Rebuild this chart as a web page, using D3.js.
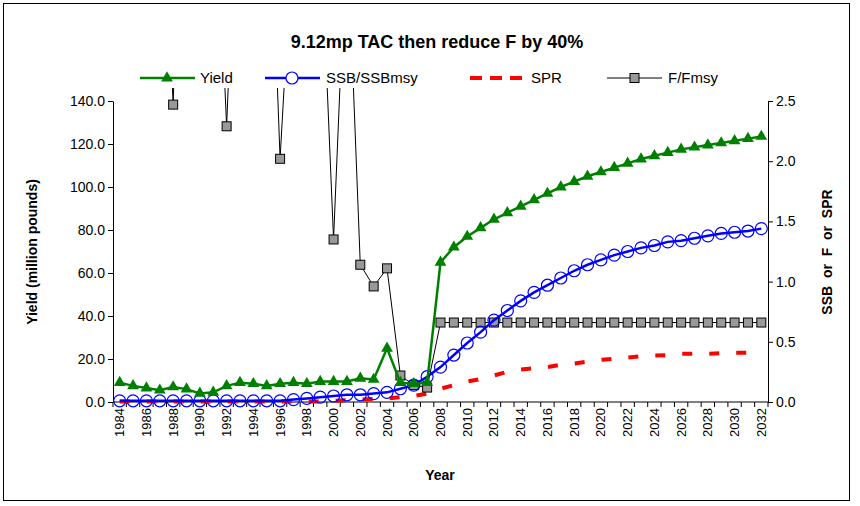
<!DOCTYPE html><html><head><script src="https://d3js.org/d3.v7.min.js"></script>
<style>body{margin:0;background:#fff;font-family:"Liberation Sans",Arial,sans-serif}</style></head><body>
<svg id="c" width="860" height="506"></svg>
<script>
const years=d3.range(1984,2033);
const yieldV=[9,7.5,6.5,5.5,7,6,4,4.5,7.5,9,8.5,7.5,8.5,9,8.5,9.5,9.5,9.5,11,10.5,25,9,8.5,9,65,72,77,81,85,88,91,94,97,100,102.5,105,107,109,111,113,114.5,116,117.5,118.5,119.5,120.5,121.5,122.5,123.5];
const ssbV=[0.01,0.01,0.01,0.01,0.01,0.01,0.01,0.01,0.01,0.01,0.01,0.01,0.01,0.02,0.03,0.04,0.05,0.06,0.06,0.07,0.08,0.11,0.14,0.21,0.29,0.39,0.49,0.58,0.68,0.76,0.84,0.91,0.97,1.03,1.09,1.14,1.18,1.22,1.25,1.28,1.30,1.33,1.34,1.36,1.38,1.40,1.41,1.42,1.44];
const sprV=[0.005,0.005,0.005,0.005,0.005,0.005,0.005,0.005,0.005,0.005,0.005,0.005,0.005,0.005,0.005,0.005,0.01,0.015,0.02,0.025,0.03,0.04,0.05,0.07,0.11,0.14,0.17,0.19,0.22,0.25,0.27,0.28,0.29,0.31,0.32,0.335,0.35,0.36,0.37,0.38,0.385,0.39,0.40,0.40,0.40,0.405,0.41,0.41];
const fV=[4,4.5,4.2,5,2.47,6,5.5,4.8,2.29,5,4.5,5,2.02,4,4.5,4,1.35,4,1.14,0.96,1.11,0.22,0.14,0.12,0.66,0.66,0.66,0.66,0.66,0.66,0.66,0.66,0.66,0.66,0.66,0.66,0.66,0.66,0.66,0.66,0.66,0.66,0.66,0.66,0.66,0.66,0.66,0.66,0.66];
const leftTicks=[0,20,40,60,80,100,120,140];
const rightTicks=[0,0.5,1,1.5,2,2.5];
const svg=d3.select("#c");
svg.append("rect").attr("x",3.5).attr("y",3.5).attr("width",846).attr("height",497).attr("fill","none").attr("stroke","#000");
const L=113,R=768,T=101,B=402;
const x=d3.scaleBand().domain(years).range([L,R]);
const cx=d=>x(d)+x.bandwidth()/2;
const yl=d3.scaleLinear().domain([0,140]).range([B,T]);
const yr=d3.scaleLinear().domain([0,2.5]).range([B,T]);
svg.append("text").attr("x",437).attr("y",48).attr("text-anchor","middle").attr("font-weight","bold").attr("font-size",18).text("9.12mp TAC then reduce F by 40%");
const ga=svg.append("g").attr("transform",`translate(${L},0)`).call(d3.axisLeft(yl).tickValues(leftTicks).tickFormat(d3.format(".1f")).tickSize(5).tickSizeOuter(0));
const gr=svg.append("g").attr("transform",`translate(${R},0)`).call(d3.axisRight(yr).tickValues(rightTicks).tickFormat(d3.format(".1f")).tickSize(5).tickSizeOuter(0));
[ga,gr].forEach(g=>{g.selectAll("text").attr("font-size",14).attr("font-family","Liberation Sans,Arial")});
ga.selectAll(".tick text").attr("x",-8);gr.selectAll(".tick text").attr("x",8);
const gx=svg.append("g").attr("transform",`translate(0,${B})`);
gx.append("line").attr("x1",L).attr("x2",R).attr("stroke","#000");
years.forEach((yv,i)=>{gx.append("line").attr("x1",x(yv)).attr("x2",x(yv)).attr("y1",0).attr("y2",5).attr("stroke","#000");
 if(i%2==0) gx.append("text").attr("transform",`translate(${cx(yv)+4.5},6) rotate(-90)`).attr("text-anchor","end").attr("font-size",13).text(yv);});
gx.append("line").attr("x1",R).attr("x2",R).attr("y1",0).attr("y2",5).attr("stroke","#000");
svg.append("text").attr("x",440).attr("y",480).attr("text-anchor","middle").attr("font-weight","bold").attr("font-size",14).text("Year");
svg.append("text").attr("transform","translate(37,252) rotate(-90)").attr("text-anchor","middle").attr("font-weight","bold").attr("font-size",14).text("Yield (million pounds)");
svg.append("text").attr("transform","translate(832,252) rotate(-90)").attr("text-anchor","middle").attr("font-weight","bold").attr("font-size",14).style("white-space","pre").text("SSB  or  F  or  SPR");
svg.append("defs").append("clipPath").attr("id","cp2").append("rect").attr("x",L).attr("y",88).attr("width",R-L).attr("height",B-88+10);
const p=svg.append("g").attr("clip-path","url(#cp2)");
const tri=d3.symbol().type(d3.symbolTriangle).size(60);
p.append("path").datum(sprV).attr("fill","none").attr("stroke","#ff0000").attr("stroke-width",4).attr("stroke-dasharray","10,17")
 .attr("d",d3.line().x((d,i)=>cx(years[i])).y(d=>yr(d)));
p.append("path").datum(fV).attr("fill","none").attr("stroke","#000").attr("stroke-width",1)
 .attr("d",d3.line().x((d,i)=>cx(years[i])).y(d=>yr(d)));
p.selectAll(".f").data(fV).join("rect").attr("x",(d,i)=>cx(years[i])-4.5).attr("y",d=>yr(d)-4.5).attr("width",9).attr("height",9).attr("fill","#999").attr("stroke","#000").attr("stroke-width",1);
p.append("path").datum(ssbV).attr("fill","none").attr("stroke","#0000ff").attr("stroke-width",2.5)
 .attr("d",d3.line().x((d,i)=>cx(years[i])).y(d=>yr(d)));
p.selectAll(".s").data(ssbV).join("circle").attr("cx",(d,i)=>cx(years[i])).attr("cy",d=>yr(d)).attr("r",6).attr("fill","none").attr("stroke","#0000ff").attr("stroke-width",1.2);
p.append("path").datum(yieldV).attr("fill","none").attr("stroke","#008000").attr("stroke-width",2.5)
 .attr("d",d3.line().x((d,i)=>cx(years[i])).y(d=>yl(d)));
p.selectAll(".y").data(yieldV).join("path").attr("d",tri).attr("transform",(d,i)=>`translate(${cx(years[i])},${yl(d)})`).attr("fill","#008000");
const lg=svg.append("g").attr("font-size",15);
const ly=78;
lg.append("line").attr("x1",140).attr("x2",195).attr("y1",ly).attr("y2",ly).attr("stroke","#008000").attr("stroke-width",2.5);
lg.append("path").attr("d",tri).attr("transform",`translate(167,${ly})`).attr("fill","#008000");
lg.append("text").attr("x",200).attr("y",ly+5).text("Yield");
lg.append("line").attr("x1",265).attr("x2",320).attr("y1",ly).attr("y2",ly).attr("stroke","#0000ff").attr("stroke-width",2.5);
lg.append("circle").attr("cx",292).attr("cy",ly).attr("r",6).attr("fill","#fff").attr("stroke","#0000ff").attr("stroke-width",1.2);
lg.append("text").attr("x",326).attr("y",ly+5).text("SSB/SSBmsy");
lg.append("line").attr("x1",470).attr("x2",525).attr("y1",ly).attr("y2",ly).attr("stroke","#ff0000").attr("stroke-width",4).attr("stroke-dasharray","12,8");
lg.append("text").attr("x",531).attr("y",ly+5).text("SPR");
lg.append("line").attr("x1",607).attr("x2",662).attr("y1",ly).attr("y2",ly).attr("stroke","#000");
lg.append("rect").attr("x",630).attr("y",ly-4.5).attr("width",9).attr("height",9).attr("fill","#999").attr("stroke","#000");
lg.append("text").attr("x",668).attr("y",ly+5).text("F/Fmsy");
</script></body></html>
